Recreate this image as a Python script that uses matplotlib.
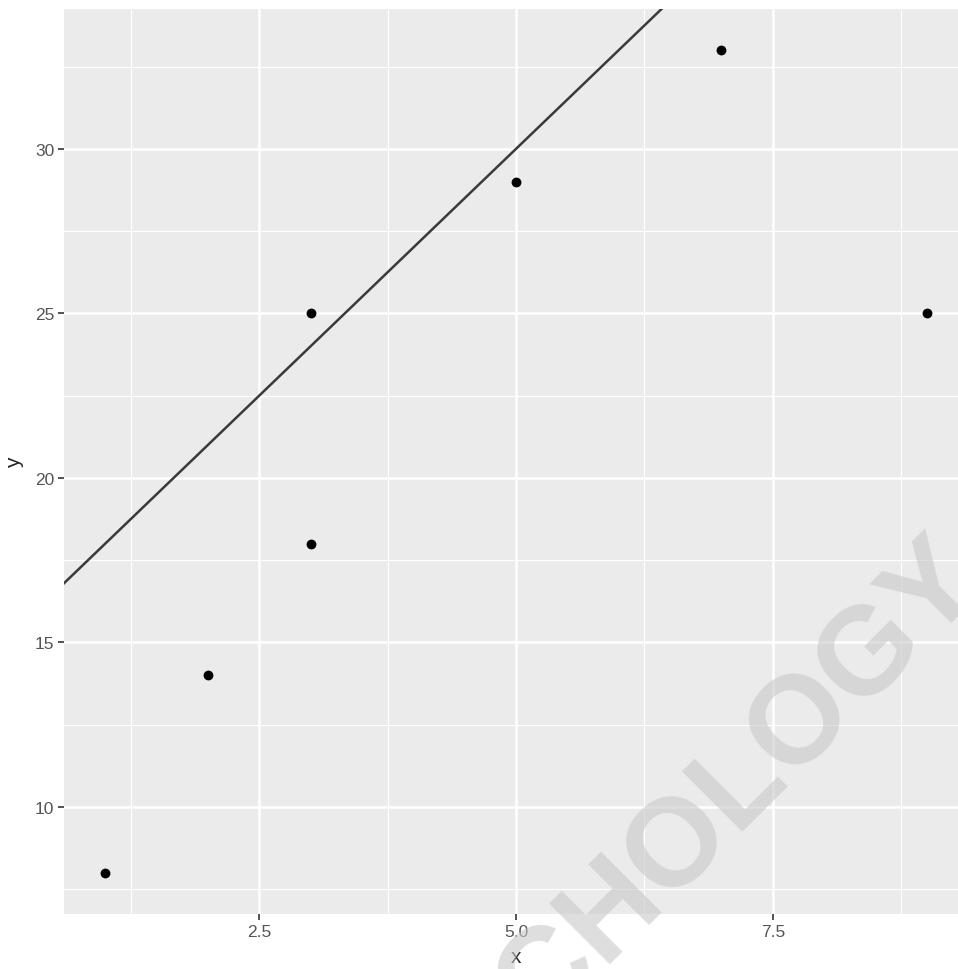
import matplotlib
matplotlib.use("Agg")
import matplotlib.pyplot as plt
import numpy as np
from matplotlib.ticker import FixedLocator

x_vals = [1, 2, 3, 3, 5, 7, 9]
y_vals = [8, 14, 18, 25, 29, 33, 25]
line_intercept = 15
line_slope = 3
x_ticks = [2.5, 5.0, 7.5]
x_tick_labels = ["2.5", "5.0", "7.5"]
y_ticks = [10, 15, 20, 25, 30]
y_tick_labels = ["10", "15", "20", "25", "30"]

W, H = 958, 970
fig = plt.figure(figsize=(W / 100, H / 100), dpi=100)
fig.patch.set_facecolor("white")
left, right, top, bottom = 64, 968, 10, 915
ax = fig.add_axes([left / W, 1 - bottom / H, (right - left) / W, (bottom - top) / H])
ax.set_facecolor("#ebebeb")
for s in ax.spines.values():
    s.set_visible(False)

ax.set_xlim(0.6, 9.4)
ax.set_ylim(6.75, 34.25)
ax.xaxis.set_major_locator(FixedLocator(x_ticks))
ax.set_xticklabels(x_tick_labels)
ax.yaxis.set_major_locator(FixedLocator(y_ticks))
ax.set_yticklabels(y_tick_labels)
ax.xaxis.set_minor_locator(FixedLocator([1.25, 3.75, 6.25, 8.75]))
ax.yaxis.set_minor_locator(FixedLocator([7.5, 12.5, 17.5, 22.5, 27.5, 32.5]))
ax.grid(which="major", color="white", linewidth=1.8, zorder=0)
ax.grid(which="minor", color="white", linewidth=0.8, zorder=0)
ax.set_axisbelow(True)
ax.tick_params(which="major", length=4, width=1.2, color="#333333",
               labelcolor="#555555", labelsize=12.5, pad=3)
ax.tick_params(which="minor", length=0)
for lab in ax.get_xticklabels() + ax.get_yticklabels():
    lab.set_family("Liberation Sans")

xs = np.array(ax.get_xlim())
ax.plot(xs, line_intercept + line_slope * xs, color="#3a3a3a", linewidth=1.8, zorder=3)
ax.scatter(x_vals, y_vals, s=50, color="black", zorder=4, linewidths=0)

ax.set_xlabel("x", fontsize=15, family="Liberation Sans", color="#222222", labelpad=6)
ax.set_ylabel("y", fontsize=15, family="Liberation Sans", color="#222222", labelpad=8)

# watermark
fig.text(651 / W, 1 - 870 / H, "PSYCHOLOGY", rotation=45, rotation_mode="anchor",
         ha="center", va="center", fontsize=90, fontweight="bold",
         family="Liberation Sans", color="#c8c8c8", alpha=0.6, zorder=5,
         transform=fig.transFigure)

fig.savefig("out.png", dpi=100)
